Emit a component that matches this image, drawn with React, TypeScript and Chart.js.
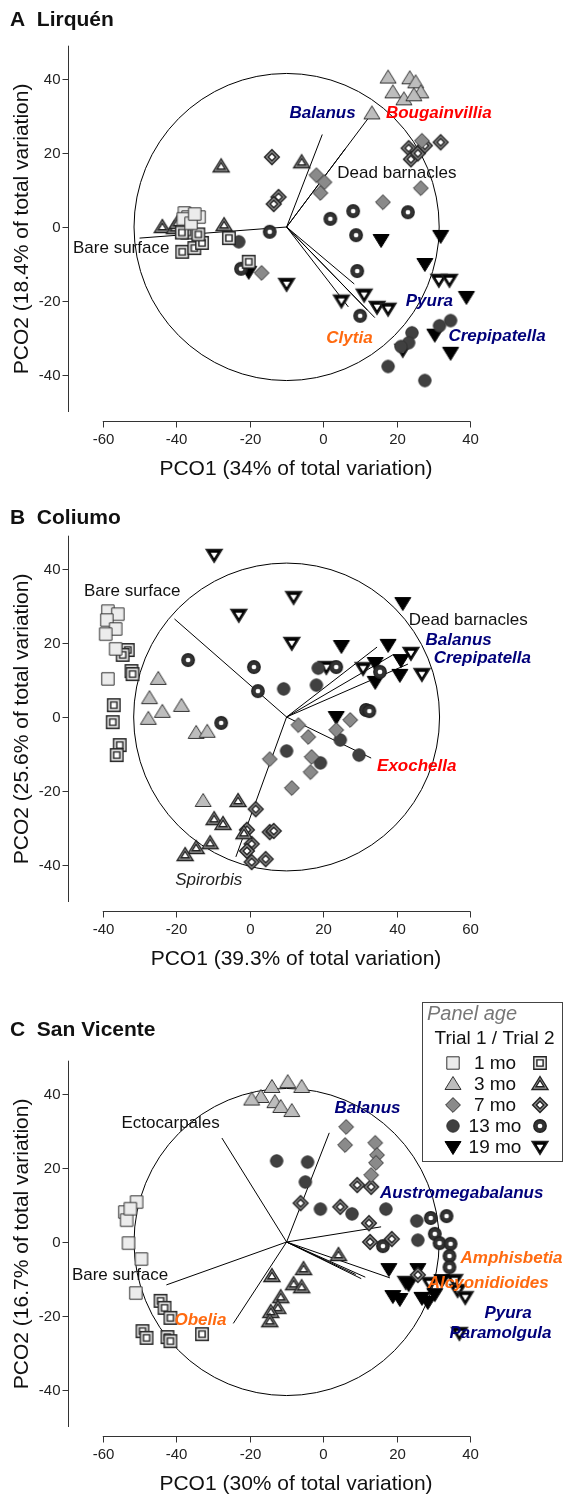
import React, { useEffect, useRef } from 'react';
import { Chart, registerables } from 'chart.js';

Chart.register(...registerables);

type P = [number, number];

// ---------- Panel A: Lirquén ----------
const lirquen_1mo_t1: P[] = [[-37.8, 3.8], [-36.8, 2.7], [-33.8, 2.7], [-38.1, 2.2], [-36, 1], [-35, 3.5]];
const lirquen_1mo_t2: P[] = [[-38.4, -6.7], [-35.1, -5.7], [-33, -4.3], [-25.7, -3], [-20.3, -9.4], [-37, -1.5], [-34, -2], [-38.5, -1.5]];
const lirquen_3mo_t1: P[] = [[17.6, 40.4], [23.5, 40.2], [25.1, 39.1], [26.5, 36.4], [18.9, 36.4], [21.9, 34.5], [24.6, 35.6], [13.2, 30.7]];
const lirquen_3mo_t2: P[] = [[-43.8, 0], [-40.5, -0.3], [-39.7, 1.1], [-37.6, 0.3], [-35.7, -0.3], [-27, 0.5], [-27.8, 16.4], [-5.9, 17.5]];
const lirquen_7mo_t1: P[] = [[-1.9, 14], [0.3, 12.1], [-0.8, 9.2], [26.5, 10.5], [16.2, 6.7], [-16.8, -12.4], [26.8, 23.3]];
const lirquen_7mo_t2: P[] = [[23.2, 21.3], [23.8, 18.3], [25.7, 19.9], [27.6, 22], [31.9, 22.9], [-14, 18.9], [-12.2, 8.1], [-13.5, 6.2]];
const lirquen_13mo_t1: P[] = [[-23, -4], [34.6, -25.3], [31.6, -26.7], [24.1, -28.6], [23.2, -31.3], [21.1, -32.3], [17.6, -37.7], [27.6, -41.5]];
const lirquen_13mo_t2: P[] = [[1.9, 2.2], [8.1, 4.3], [23, 4], [8.9, -2.2], [-14.6, -1.3], [9.2, -11.9], [10, -24], [-22.4, -11.3]];
const lirquen_19mo_t1: P[] = [[15.7, -3.5], [31.9, -2.4], [27.6, -10], [38.9, -18.9], [30.3, -29.1], [34.6, -34], [-20.3, -12.1]];
const lirquen_19mo_t2: P[] = [[-10, -15.4], [4.9, -19.9], [11.1, -18.3], [14.6, -21.6], [17.6, -22.1], [31.4, -14.3], [34.3, -14.3], [21.6, -33.2]];
const lirquen_vectorEnds: P[] = [[-0.3, 25], [13.2, 30.7], [6, 21.2], [-50, -3], [8.4, -15.4], [6.8, -21.6], [14, -24.5], [12, -22.5]];

// ---------- Panel B: Coliumo ----------
const coliumo_1mo_t1: P[] = [[-38.6, 28.6], [-35.9, 27.8], [-38.9, 26.2], [-36.5, 23.8], [-39.2, 22.4], [-36.5, 18.4], [-38.6, 10.3]];
const coliumo_1mo_t2: P[] = [[-33.2, 18.1], [-34.6, 16.8], [-32.2, 12.4], [-31.9, 11.6], [-37, 3.2], [-37.3, -1.4], [-35.4, -7.6], [-36.2, -10.3]];
const coliumo_3mo_t1: P[] = [[-24.9, 10.3], [-27.3, 5.1], [-23.8, 1.4], [-27.6, -0.5], [-18.6, 3], [-14.6, -4.3], [-11.6, -4], [-12.7, -22.7]];
const coliumo_3mo_t2: P[] = [[-9.7, -27.6], [-7.3, -28.9], [-10.8, -34.1], [-14.6, -35.4], [-17.6, -37.3], [-3.2, -22.7], [-1.6, -31.4]];
const coliumo_7mo_t1: P[] = [[5.4, -11.4], [11.4, -19.2], [13.2, -2.2], [15.9, -5.4], [16.8, -10.8], [16.5, -14.9], [23.5, -3.5], [27.3, -0.8]];
const coliumo_7mo_t2: P[] = [[1.6, -24.9], [-0.8, -30.5], [0.5, -34.3], [-0.8, -36.2], [0.5, -39.2], [4.3, -38.4], [5.4, -31.1], [6.5, -30.8]];
const coliumo_13mo_t1: P[] = [[9.2, 7.6], [18.6, 13.2], [18.1, 8.6], [10, -9.2], [24.6, -6.2], [29.7, -10.3], [19.2, -12.4]];
const coliumo_13mo_t2: P[] = [[-16.8, 15.4], [1.1, 13.5], [2.2, 7], [-7.8, -1.6], [23.5, 13.5], [35.4, 12.2], [31.6, 1.9], [32.5, 1.6]];
const coliumo_19mo_t1: P[] = [[41.6, 30.8], [24.9, 19.2], [37.6, 19.5], [34.1, 14.6], [41.1, 15.4], [40.8, 11.4], [34.1, 9.5], [23.5, 0]];
const coliumo_19mo_t2: P[] = [[-9.7, 43.8], [-3, 27.6], [11.9, 32.4], [11.4, 20], [20.8, 13.5], [30.8, 13.2], [43.8, 17.3], [46.8, 11.6]];
const coliumo_vectorEnds: P[] = [[-20.5, 26.5], [34.6, 18.9], [38.9, 16.8], [43, 14.3], [33, -11.1], [-3.8, -37.8]];

// ---------- Panel C: San Vicente ----------
const sanvicente_1mo_t1: P[] = [[-50.8, 10.8], [-54, 8.1], [-53.5, 5.9], [-53, -0.3], [-49.5, -4.6], [-51, -13.8], [-52.5, 9]];
const sanvicente_1mo_t2: P[] = [[-44.3, -15.9], [-43.2, -17.8], [-41.6, -20.5], [-49.2, -24.1], [-48.1, -25.9], [-42.4, -25.7], [-41.6, -26.8], [-33, -24.9]];
const sanvicente_3mo_t1: P[] = [[-17, 39.2], [-14, 41.9], [-9.7, 43.2], [-5.9, 41.9], [-13.2, 37.8], [-11.6, 36.5], [-8.6, 35.4], [-19.5, 38.5]];
const sanvicente_3mo_t2: P[] = [[4.1, -3.5], [-5.4, -7.3], [-14, -9.2], [-8.1, -11.4], [-5.9, -12.2], [-11.6, -14.9], [-12.4, -17.8], [-14.3, -18.9], [-14.6, -21.4]];
const sanvicente_7mo_t1: P[] = [[6.2, 31.1], [5.9, 26.2], [14.1, 26.8], [14.6, 23.5], [14.3, 21.4], [13, 18.1]];
const sanvicente_7mo_t2: P[] = [[9.2, 15.4], [13, 14.9], [-6.2, 10.5], [4.6, 9.5], [12.4, 5.1], [12.7, 0], [18.6, 0.8], [25.7, -8.9]];
const sanvicente_13mo_t1: P[] = [[-12.7, 21.9], [-4.3, 21.6], [-4.9, 16.2], [-0.8, 8.9], [7.8, 7.6], [17, 8.9], [25.4, 5.7], [25.7, 0.5]];
const sanvicente_13mo_t2: P[] = [[29.2, 6.5], [33.5, 7], [30.3, 2.2], [31.6, -0.3], [34.6, -0.5], [16.2, -1.1], [34.3, -3.8], [34.3, -6.8]];
const sanvicente_19mo_t1: P[] = [[17.8, -7.3], [25.7, -7.3], [32.2, -10.3], [18.9, -14.6], [20.8, -15.4], [23.2, -11.4], [26.8, -15.1], [28.4, -16.2], [30.3, -14.1]];
const sanvicente_19mo_t2: P[] = [[22.4, -10.8], [28.9, -11.1], [35.7, -10.3], [36.5, -13], [38.6, -14.9], [37, -24.6]];
const sanvicente_vectorEnds: P[] = [[-27.6, 28.1], [1.6, 29.5], [15.7, 4.1], [18.1, -9.7], [11.4, -9.5], [10.3, -9.9], [8.8, -8.8], [-42.7, -11.6], [-24.5, -22]];

// ---------- Axes / legend text ----------
const xTicksAC = [-60, -40, -20, 0, 20, 40];
const xTicksB = [-40, -20, 0, 20, 40, 60];
const yTicks = [-40, -20, 0, 20, 40];
const ageLabels = ['1 mo', '3 mo', '7 mo', '13 mo', '19 mo'];

const FONT = '"Liberation Sans", Arial, Helvetica, sans-serif';
const NAVY = '#00007a';
const RED = '#ff0000';
const ORANGE = '#ff6a10';
const DARK = '#111111';
const AXIS = '#333333';
const KINDS = ['square', 'triangle', 'diamond', 'circle', 'invtri'];

type LabelKind = 'sp' | 'plain' | 'it';
interface Lbl { text: string; at: P; kind: LabelKind; color: string }
interface PanelCfg {
  letter: string; name: string; xTitle: string; yTitle: string;
  groups: [P[], P[]][]; origin: P; radius: number; vectors: P[]; labels: Lbl[];
  xTicks: number[]; legend: boolean;
  height: number; top: number; x0px: number; y0px: number;
  xMin: number; xMax: number; yMin: number; yMax: number; titleY: number;
}

function makeMarker(kind: string, open: boolean): HTMLCanvasElement {
  const S = 20;
  const c = document.createElement('canvas');
  c.width = S; c.height = S;
  const g = c.getContext('2d')!;
  const cx = S / 2, cy = S / 2;
  const shape = (s: number) => {
    g.beginPath();
    if (kind === 'square') { const h = 6.2 * s; g.rect(cx - h, cy - h, 2 * h, 2 * h); }
    else if (kind === 'triangle') { g.moveTo(cx, cy - 7.5 * s); g.lineTo(cx + 8 * s, cy + 5.5 * s); g.lineTo(cx - 8 * s, cy + 5.5 * s); g.closePath(); }
    else if (kind === 'invtri') { g.moveTo(cx, cy + 7.5 * s); g.lineTo(cx + 8 * s, cy - 5.5 * s); g.lineTo(cx - 8 * s, cy - 5.5 * s); g.closePath(); }
    else if (kind === 'diamond') { const h = 7.4 * s; g.moveTo(cx, cy - h); g.lineTo(cx + h, cy); g.lineTo(cx, cy + h); g.lineTo(cx - h, cy); g.closePath(); }
    else { g.arc(cx, cy, 6.2 * s, 0, Math.PI * 2); }
  };
  const fills: Record<string, string> = { square: '#ececec', triangle: '#bdbdbd', diamond: '#8a8a8a', circle: '#404040', invtri: '#000000' };
  const openFills: Record<string, string> = { square: '#e6e6e6', triangle: '#9a9a9a', diamond: '#8a8a8a', circle: '#333333', invtri: '#000000' };
  if (!open) {
    shape(1);
    g.fillStyle = fills[kind]; g.fill();
    g.strokeStyle = kind === 'invtri' ? '#000' : '#333'; g.lineWidth = 1; g.stroke();
  } else {
    shape(1);
    g.fillStyle = openFills[kind]; g.fill();
    g.strokeStyle = '#222'; g.lineWidth = 1.4; g.stroke();
    if (kind === 'circle') { shape(0.38); g.fillStyle = '#fff'; g.fill(); }
    else if (kind === 'invtri') { shape(0.42); g.fillStyle = '#fff'; g.fill(); }
    else { shape(0.5); g.fillStyle = '#fff'; g.fill(); g.strokeStyle = '#222'; g.lineWidth = 1.4; g.stroke(); }
  }
  return c;
}

const panels: PanelCfg[] = [
  {
    letter: 'A', name: 'Lirquén', xTitle: 'PCO1 (34% of total variation)', yTitle: 'PCO2 (18.4% of total variation)',
    groups: [[lirquen_1mo_t1, lirquen_1mo_t2], [lirquen_3mo_t1, lirquen_3mo_t2], [lirquen_7mo_t1, lirquen_7mo_t2], [lirquen_13mo_t1, lirquen_13mo_t2], [lirquen_19mo_t1, lirquen_19mo_t2]],
    origin: [-10, 0], radius: 41.5, vectors: lirquen_vectorEnds,
    labels: [
      { text: 'Balanus', at: [-9.2, 30.7], kind: 'sp', color: NAVY },
      { text: 'Bougainvillia', at: [17, 30.7], kind: 'sp', color: RED },
      { text: 'Dead barnacles', at: [3.8, 14.6], kind: 'plain', color: DARK },
      { text: 'Bare surface', at: [-68.1, -5.7], kind: 'plain', color: DARK },
      { text: 'Pyura', at: [22.4, -20], kind: 'sp', color: NAVY },
      { text: 'Clytia', at: [0.8, -30], kind: 'sp', color: ORANGE },
      { text: 'Crepipatella', at: [34, -29.6], kind: 'sp', color: NAVY },
    ],
    xTicks: xTicksAC, legend: false, height: 500, top: 0, x0px: 325, y0px: 227,
    xMin: -69.5, xMax: 63, yMin: -50, yMax: 49, titleY: 20,
  },
  {
    letter: 'B', name: 'Coliumo', xTitle: 'PCO1 (39.3% of total variation)', yTitle: 'PCO2 (25.6% of total variation)',
    groups: [[coliumo_1mo_t1, coliumo_1mo_t2], [coliumo_3mo_t1, coliumo_3mo_t2], [coliumo_7mo_t1, coliumo_7mo_t2], [coliumo_13mo_t1, coliumo_13mo_t2], [coliumo_19mo_t1, coliumo_19mo_t2]],
    origin: [10, 0], radius: 41.6, vectors: coliumo_vectorEnds,
    labels: [
      { text: 'Bare surface', at: [-45.1, 34.1], kind: 'plain', color: DARK },
      { text: 'Dead barnacles', at: [43.2, 26.2], kind: 'plain', color: DARK },
      { text: 'Balanus', at: [47.8, 20.8], kind: 'sp', color: NAVY },
      { text: 'Crepipatella', at: [50, 15.9], kind: 'sp', color: NAVY },
      { text: 'Exochella', at: [34.6, -13.2], kind: 'sp', color: RED },
      { text: 'Spirorbis', at: [-20.3, -44], kind: 'it', color: '#222' },
    ],
    xTicks: xTicksB, legend: false, height: 500, top: 500, x0px: 251, y0px: 217,
    xMin: -49.5, xMax: 83, yMin: -50, yMax: 49, titleY: 18,
  },
  {
    letter: 'C', name: 'San Vicente', xTitle: 'PCO1 (30% of total variation)', yTitle: 'PCO2 (16.7% of total variation)',
    groups: [[sanvicente_1mo_t1, sanvicente_1mo_t2], [sanvicente_3mo_t1, sanvicente_3mo_t2], [sanvicente_7mo_t1, sanvicente_7mo_t2], [sanvicente_13mo_t1, sanvicente_13mo_t2], [sanvicente_19mo_t1, sanvicente_19mo_t2]],
    origin: [-10, 0], radius: 41.5, vectors: sanvicente_vectorEnds,
    labels: [
      { text: 'Ectocarpales', at: [-54.9, 32.2], kind: 'plain', color: DARK },
      { text: 'Balanus', at: [3, 36.2], kind: 'sp', color: NAVY },
      { text: 'Austromegabalanus', at: [15.4, 13.2], kind: 'sp', color: NAVY },
      { text: 'Amphisbetia', at: [37.3, -4.3], kind: 'sp', color: ORANGE },
      { text: 'Alcyonidioides', at: [28.4, -11.1], kind: 'sp', color: ORANGE },
      { text: 'Pyura', at: [43.8, -19.2], kind: 'sp', color: NAVY },
      { text: 'Paramolgula', at: [34.3, -24.6], kind: 'sp', color: NAVY },
      { text: 'Bare surface', at: [-68.4, -8.9], kind: 'plain', color: DARK },
      { text: 'Obelia', at: [-40.5, -21.1], kind: 'sp', color: ORANGE },
    ],
    xTicks: xTicksAC, legend: true, height: 498, top: 1000, x0px: 325, y0px: 242,
    xMin: -69.5, xMax: 63, yMin: -50, yMax: 49, titleY: 30,
  },
];

const PXU = 3.7;

function labelFont(k: LabelKind) {
  if (k === 'sp') return `italic bold 17px ${FONT}`;
  if (k === 'it') return `italic 17px ${FONT}`;
  return `17px ${FONT}`;
}

function makeOverlay(cfg: PanelCfg, markers: HTMLCanvasElement[][]) {
  return {
    id: 'pcoOverlay' + cfg.letter,
    beforeDatasetsDraw(chart: any) {
      const { ctx } = chart;
      const x = chart.scales.x, y = chart.scales.y;
      const ox = x.getPixelForValue(cfg.origin[0]);
      const oy = y.getPixelForValue(cfg.origin[1]);
      const rx = Math.abs(x.getPixelForValue(cfg.origin[0] + cfg.radius) - ox);
      const ry = Math.abs(y.getPixelForValue(cfg.origin[1] + cfg.radius) - oy);
      ctx.save();
      ctx.strokeStyle = '#000';
      ctx.lineWidth = 1;
      ctx.beginPath();
      ctx.ellipse(ox, oy, rx, ry, 0, 0, Math.PI * 2);
      ctx.stroke();
      for (const [vx, vy] of cfg.vectors) {
        ctx.beginPath();
        ctx.moveTo(ox, oy);
        ctx.lineTo(x.getPixelForValue(vx), y.getPixelForValue(vy));
        ctx.stroke();
      }
      ctx.restore();
    },
    afterDatasetsDraw(chart: any) {
      const { ctx } = chart;
      const x = chart.scales.x, y = chart.scales.y;
      ctx.save();
      ctx.textAlign = 'left';
      ctx.textBaseline = 'middle';
      for (const l of cfg.labels) {
        ctx.font = labelFont(l.kind);
        ctx.fillStyle = l.color;
        ctx.fillText(l.text, x.getPixelForValue(l.at[0]), y.getPixelForValue(l.at[1]));
      }
      ctx.restore();
    },
    afterDraw(chart: any) {
      const { ctx, chartArea } = chart;
      const x = chart.scales.x, y = chart.scales.y;
      const { left, top, bottom } = chartArea;
      ctx.save();
      ctx.strokeStyle = AXIS;
      ctx.fillStyle = '#222';
      ctx.lineWidth = 1;
      // y axis
      const ax = Math.round(left) + 0.5;
      ctx.beginPath(); ctx.moveTo(ax, top); ctx.lineTo(ax, bottom); ctx.stroke();
      ctx.font = `15px ${FONT}`;
      ctx.textAlign = 'right'; ctx.textBaseline = 'middle';
      for (const t of yTicks) {
        const py = Math.round(y.getPixelForValue(t)) + 0.5;
        ctx.beginPath(); ctx.moveTo(ax - 6, py); ctx.lineTo(ax, py); ctx.stroke();
        ctx.fillText(String(t), ax - 8, py);
      }
      // x axis
      const ay = Math.round(bottom + 9) + 0.5;
      const xs = cfg.xTicks;
      ctx.beginPath();
      ctx.moveTo(x.getPixelForValue(xs[0]), ay);
      ctx.lineTo(x.getPixelForValue(xs[xs.length - 1]), ay);
      ctx.stroke();
      ctx.textAlign = 'center';
      for (const t of xs) {
        const px = Math.round(x.getPixelForValue(t)) + 0.5;
        ctx.beginPath(); ctx.moveTo(px, ay); ctx.lineTo(px, ay + 6); ctx.stroke();
        ctx.fillText(String(t), px, ay + 18);
      }
      // axis titles
      ctx.fillStyle = '#111';
      ctx.font = `21px ${FONT}`;
      ctx.fillText(cfg.xTitle, 296, ay + 48);
      ctx.save();
      ctx.translate(22, (top + bottom) / 2);
      ctx.rotate(-Math.PI / 2);
      ctx.fillText(cfg.yTitle, 0, 0);
      ctx.restore();
      // panel title
      ctx.textAlign = 'left';
      ctx.font = `bold 21px ${FONT}`;
      ctx.fillText(`${cfg.letter}  ${cfg.name}`, 10, cfg.titleY);
      // legend
      if (cfg.legend) {
        const bx = 422.5, by = 2.5, bw = 140, bh = 159;
        ctx.fillStyle = '#fff';
        ctx.fillRect(bx, by, bw, bh);
        ctx.strokeStyle = '#444';
        ctx.strokeRect(bx, by, bw, bh);
        ctx.font = `italic 20px ${FONT}`;
        ctx.fillStyle = '#777';
        ctx.textAlign = 'left';
        ctx.fillText('Panel age', 427, 14);
        ctx.font = `19px ${FONT}`;
        ctx.fillStyle = '#111';
        ctx.textAlign = 'center';
        ctx.fillText('Trial 1 / Trial 2', 494.5, 39);
        ageLabels.forEach((lab, i) => {
          const ry = 63 + i * 21;
          ctx.fillText(lab, 495, ry + 1);
          const m1 = markers[i][0], m2 = markers[i][1];
          ctx.drawImage(m1, 453 - m1.width / 2, ry - m1.height / 2);
          ctx.drawImage(m2, 540 - m2.width / 2, ry - m2.height / 2);
        });
      }
      ctx.restore();
    },
  };
}

function Panel({ cfg }: { cfg: PanelCfg }) {
  const ref = useRef<HTMLCanvasElement>(null);
  useEffect(() => {
    const canvas = ref.current!;
    const markers = KINDS.map((k) => [makeMarker(k, false), makeMarker(k, true)]);
    const datasets: any[] = [];
    cfg.groups.forEach(([t1, t2], i) => {
      datasets.push({
        label: `${ageLabels[i]} trial 1`,
        data: t1.map(([vx, vy]) => ({ x: vx, y: vy })),
        pointStyle: markers[i][0], pointRadius: 8,
      });
      datasets.push({
        label: `${ageLabels[i]} trial 2`,
        data: t2.map(([vx, vy]) => ({ x: vx, y: vy })),
        pointStyle: markers[i][1], pointRadius: 8,
      });
    });
    const left = cfg.x0px + cfg.xMin * PXU;
    const right = cfg.x0px + cfg.xMax * PXU;
    const top = cfg.y0px - cfg.yMax * PXU;
    const bottom = cfg.y0px - cfg.yMin * PXU;
    const chart = new Chart(canvas, {
      type: 'scatter',
      data: { datasets },
      options: {
        responsive: false,
        animation: false,
        events: [],
        layout: { padding: { left, right: 564 - right, top, bottom: cfg.height - bottom } },
        plugins: { legend: { display: false }, tooltip: { enabled: false }, title: { display: false } },
        scales: {
          x: { type: 'linear', min: cfg.xMin, max: cfg.xMax, display: false },
          y: { type: 'linear', min: cfg.yMin, max: cfg.yMax, display: false },
        },
      },
      plugins: [makeOverlay(cfg, markers)],
    } as any);
    return () => chart.destroy();
  }, [cfg]);
  return (
    <canvas
      ref={ref}
      width={564}
      height={cfg.height}
      style={{ position: 'absolute', left: 0, top: cfg.top, width: 564, height: cfg.height }}
    />
  );
}

export default function App() {
  return (
    <div style={{ position: 'absolute', left: 0, top: 0, width: 564, height: 1498, background: '#fff', overflow: 'hidden' }}>
      {panels.map((p) => (
        <Panel key={p.letter} cfg={p} />
      ))}
    </div>
  );
}
